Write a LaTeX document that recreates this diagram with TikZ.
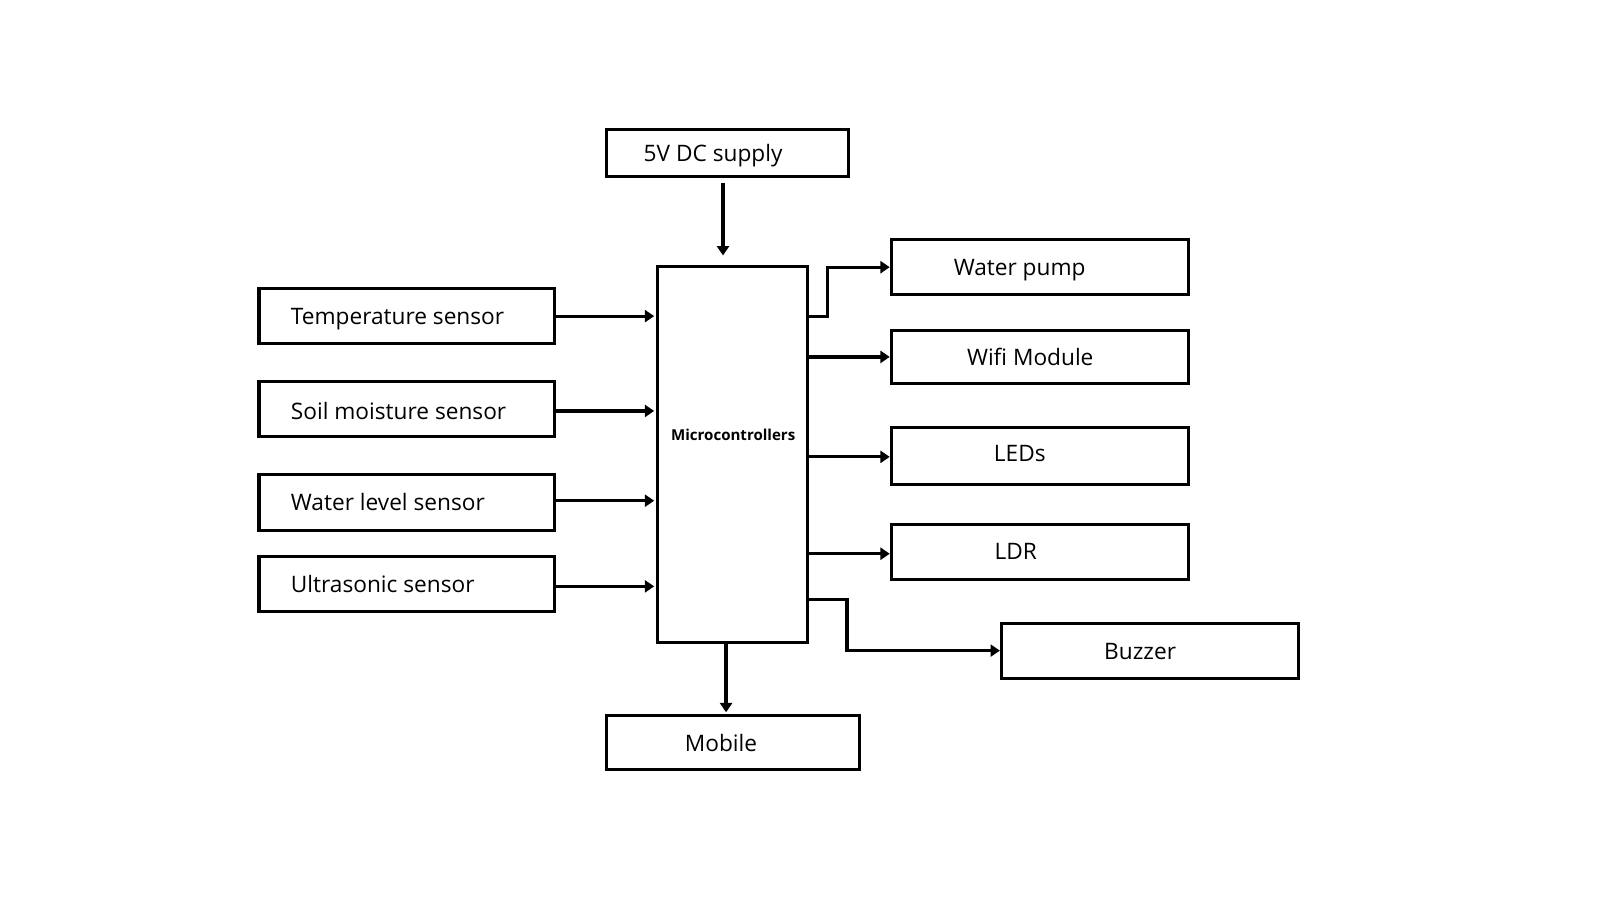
\documentclass[tikz,border=0pt]{standalone}
\usepackage{fontspec}
\setmainfont{Open Sans}
\usetikzlibrary{arrows.meta,calc}
\def\pxu{0.7648pt}
\begin{document}
\begin{tikzpicture}[x=0.7648pt,y=-0.7648pt,
  box/.style={draw=black,line width=2.3pt,rectangle,inner sep=0pt},
  lbl/.style={font=\fontsize{17}{19}\selectfont,inner sep=0pt},
  arr/.style={line width=2.4pt,-{Triangle[length=7pt,width=9pt]}}]
\useasboundingbox (0,0) rectangle (1568,881.5);
\fill[white] (0,0) rectangle (1568,881.5);
% boxes
\node[box,minimum width=237*\pxu,minimum height=46*\pxu] (supply) at (713.5,150) {};
\node[box,minimum width=147*\pxu,minimum height=369*\pxu] (micro) at (718.5,445.5) {};
\node[box,minimum width=290*\pxu,minimum height=54*\pxu] (temp) at (399,310) {};
\node[box,minimum width=290*\pxu,minimum height=54*\pxu] (soil) at (399,401) {};
\node[box,minimum width=290*\pxu,minimum height=55*\pxu] (water) at (399,492.5) {};
\node[box,minimum width=290*\pxu,minimum height=54*\pxu] (ultra) at (399,573) {};
\node[box,minimum width=291*\pxu,minimum height=54*\pxu] (pump) at (1019.5,262) {};
\node[box,minimum width=291*\pxu,minimum height=52*\pxu] (wifi) at (1019.5,350) {};
\node[box,minimum width=291*\pxu,minimum height=56*\pxu] (leds) at (1019.5,447) {};
\node[box,minimum width=291*\pxu,minimum height=54*\pxu] (ldr) at (1019.5,541) {};
\node[box,minimum width=291*\pxu,minimum height=54*\pxu] (buzz) at (1127.5,638) {};
\node[box,minimum width=248*\pxu,minimum height=53*\pxu] (mobile) at (719,728.5) {};
% labels
\node[lbl,anchor=base west] (tsupply) at (631,158) {5V DC supply};
\node[font=\fontsize{11.3}{13}\selectfont\bfseries,inner sep=0pt] (tmicro) at (719,426) {Microcontrollers};
\node[lbl,anchor=base west] (ttemp) at (285,318) {Temperature sensor};
\node[lbl,anchor=base west] (tsoil) at (285,411) {Soil moisture sensor};
\node[lbl,anchor=base west] (twater) at (285,500.5) {Water level sensor};
\node[lbl,anchor=base west] (tultra) at (285,581) {Ultrasonic sensor};
\node[lbl,anchor=base west] (tpump) at (935,270) {Water pump};
\node[lbl,anchor=base west] (twifi) at (948,358) {Wifi Module};
\node[lbl,anchor=base] (tleds) at (1000,453) {LEDs};
\node[lbl,anchor=base] (tldr) at (996,548.5) {LDR};
\node[lbl,anchor=base] (tbuzz) at (1118,646.5) {Buzzer};
\node[lbl,anchor=base] (tmobile) at (707,737) {Mobile};
% connectors
\draw[arr] ($(supply.south)+(-4.5,5)$) -- ($(micro.north)+(-9.5,-9)$);
\draw[arr] (temp.east) -- ($(micro.west |- temp.east)+(-2,0)$);
\draw[arr] ($(soil.east)+(0,2)$) -- ($(micro.west |- soil.east)+(-2,2)$);
\draw[arr] ($(water.east)+(0,-1.5)$) -- ($(micro.west |- water.east)+(-2,-1.5)$);
\draw[arr] ($(ultra.east)+(0,2)$) -- ($(micro.west |- ultra.east)+(-2,2)$);
\coordinate (p1) at ($(micro.east |- temp.east)$);
\draw[arr] (p1) -- ++(18,0) |- (pump.west);
\draw[arr] ($(micro.east)+(0,-95.5)$) -- (wifi.west);
\draw[arr] ($(micro.east |- leds.west)+(0,1)$) -- ($(leds.west)+(0,1)$);
\draw[arr] ($(micro.east |- ldr.west)+(0,2)$) -- ($(ldr.west)+(0,2)$);
\draw[arr] ($(micro.east)+(0,142.5)$) -- ++(37,0) |- (buzz.west);
\draw[arr] ($(micro.south)+(-6.5,-3)$) -- ($(mobile.north)+(-7,-2)$);
\end{tikzpicture}
\end{document}
